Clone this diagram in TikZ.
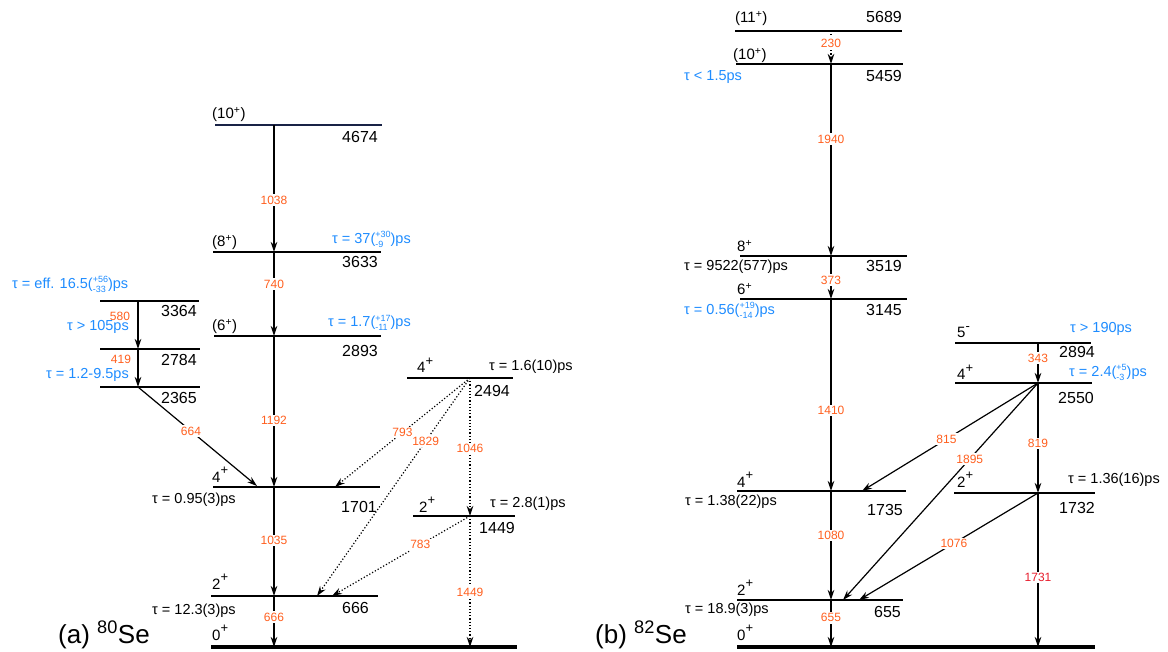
\documentclass[tikz,border=0pt]{standalone}
\usepackage{fontspec}
\setmainfont{Liberation Sans}
\usetikzlibrary{arrows.meta}
\definecolor{gam}{RGB}{255,95,30}
\definecolor{taublue}{RGB}{30,140,255}
\definecolor{gred}{RGB}{232,30,45}
\definecolor{navyline}{RGB}{25,35,70}
\newcommand{\ud}[2]{\raisebox{-3.2pt}{\fontsize{9}{9}\selectfont\shortstack[l]{#1\\#2}}}
\newcommand{\spn}[2]{#1\raisebox{0.5em}{\fontsize{13}{13}\selectfont #2}}
\newcommand{\psp}[2]{(#1\raisebox{0.55em}{\fontsize{9}{9}\selectfont #2})}
\tikzset{
  lev/.style={line width=2pt},
  gnd/.style={line width=3.3pt},
  tr/.style={line width=1.2pt, -{Stealth[length=10pt,width=6.5pt]}},
  dtr/.style={tr, dotted},
  gl/.style={text=gam, fill=white, inner sep=1.5pt, font=\fontsize{12}{12}\selectfont},
  gls/.style={text=gam, inner sep=0pt, font=\fontsize{12}{12}\selectfont},
  en/.style={font=\fontsize{16}{16}\selectfont, inner sep=0pt},
  sp/.style={font=\fontsize{15}{15}\selectfont, inner sep=0pt},
  tb/.style={text=taublue, font=\fontsize{14.5}{15}\selectfont, inner sep=0pt},
  tk/.style={font=\fontsize{14.5}{15}\selectfont, inner sep=0pt},
  ttl/.style={font=\fontsize{26}{26}\selectfont, inner sep=0pt, anchor=base west},
}
\begin{document}
\begin{tikzpicture}[x=1pt,y=-1pt]
\useasboundingbox (0,0) rectangle (1168,652);

% ================= (a) 80Se =================
% levels
\draw[lev,navyline] (215,125) -- (382,125);
\draw[lev] (213,252) -- (381,252);
\draw[lev] (214,336) -- (381,336);
\draw[lev] (100,301) -- (199,301);
\draw[lev] (100,349) -- (200,349);
\draw[lev] (100,387) -- (200,387);
\draw[lev] (213,487) -- (380,487);
\draw[lev] (211,596) -- (378,596);
\draw[gnd] (211,647) -- (517,647);
\draw[lev] (407,378) -- (513,378);
\draw[lev] (413,516) -- (515,516);

% transition points
\coordinate (a10) at (274,125);
\coordinate (a8) at (274,252);
\coordinate (a6) at (274,336);
\coordinate (a4) at (274,487);
\coordinate (a4e) at (257,486);
\coordinate (a4r) at (335,487);
\coordinate (a2) at (274,596);
\coordinate (a2a) at (317,596);
\coordinate (a2b) at (332,596);
\coordinate (a0) at (274,647);
\coordinate (s3364) at (138,301);
\coordinate (s2784) at (138,349);
\coordinate (s2365) at (138,387);
\coordinate (b2494) at (470,378);
\coordinate (b1449) at (470,516);
\coordinate (b0) at (470,647);

% transitions
\draw[tr] (a10) -- node[gl,pos=0.59] (g1038) {1038} (a8);
\draw[tr] (a8) -- node[gl,pos=0.38] (g740) {740} (a6);
\draw[tr] (a6) -- node[gl,pos=0.56] (g1192) {1192} (a4);
\draw[tr] (a4) -- node[gl,pos=0.49] (g1035) {1035} (a2);
\draw[tr] (a2) -- node[gl,pos=0.41] (g666) {666} (a0);
\draw[tr] (s3364) -- (s2784);
\draw[tr] (s2784) -- (s2365);
\node[gls] (g580) at (120,316) {580};
\node[gls] (g419) at (121,359) {419};
\draw[tr] (s2365) -- node[gl,pos=0.445] (g664) {664} (a4e);
\draw[dtr] (b2494) -- node[gl,pos=0.5] (g793) {793} (a4r);
\draw[dtr] (b2494) -- node[gl,pos=0.29] (g1829) {1829} (a2a);
\draw[dtr] (b2494) -- node[gl,pos=0.51] (g1046) {1046} (b1449);
\draw[dtr] (b1449) -- node[gl,pos=0.36] (g783) {783} (a2b);
\draw[dtr] (b1449) -- node[gl,pos=0.58] (g1449) {1449} (b0);

% labels
\node[sp,anchor=base west] (j10a) at (212,119) {(10\textsuperscript{+})};
\node[en,anchor=base east] (e4674) at (378,143) {4674};
\node[sp,anchor=base west] (j8a) at (212,247) {(8\textsuperscript{+})};
\node[en,anchor=base east] (e3633) at (378,268) {3633};
\node[tb,anchor=base east] (t3633) at (411,244) {τ = 37(\ud{+30}{-9})ps};
\node[sp,anchor=base west] (j6a) at (212,331) {(6\textsuperscript{+})};
\node[en,anchor=base east] (e2893) at (378,357) {2893};
\node[tb,anchor=base east] (t2893) at (411,327) {τ = 1.7(\ud{+17}{-11})ps};
\node[en,anchor=base east] (e3364) at (197,317) {3364};
\node[tb,anchor=base west] (t3364) at (12,289) {τ = eff. 16.5(\ud{+56}{-33})ps};
\node[tb,anchor=base east] (t2784) at (129,331) {τ > 105ps};
\node[en,anchor=base east] (e2784) at (197,366) {2784};
\node[tb,anchor=base east] (t2365) at (129,379) {τ = 1.2-9.5ps};
\node[en,anchor=base east] (e2365) at (197,403) {2365};
\node[sp,anchor=base west] (j4a) at (212,482) {\spn{4}{+}};
\node[tk,anchor=base west] (t1701) at (152,503) {τ = 0.95(3)ps};
\node[en,anchor=base east] (e1701) at (377,512) {1701};
\node[sp,anchor=base west] (j2a) at (212,589) {\spn{2}{+}};
\node[tk,anchor=base west] (t666) at (152,614) {τ = 12.3(3)ps};
\node[en,anchor=base east] (e666) at (369,613) {666};
\node[sp,anchor=base west] (j0a) at (212,640) {\spn{0}{+}};
\node[ttl] (ta) at (58,643) {(a) \textsuperscript{80}Se};
\node[sp,anchor=base west] (j4b) at (417,373) {\spn{4}{+}};
\node[en,anchor=base east] (e2494) at (510,396) {2494};
\node[tk,anchor=base west] (t2494) at (489,371) {τ = 1.6(10)ps};
\node[sp,anchor=base west] (j2b) at (419,512) {\spn{2}{+}};
\node[en,anchor=base east] (e1449) at (515,533) {1449};
\node[tk,anchor=base west] (t1449) at (490,507) {τ = 2.8(1)ps};

% ================= (b) 82Se =================
\draw[lev] (735,31) -- (902,31);
\draw[lev] (736,64) -- (903,64);
\draw[lev] (740,256) -- (907,256);
\draw[lev] (740,299) -- (907,299);
\draw[lev] (737,491) -- (906,491);
\draw[lev] (737,600) -- (903,600);
\draw[gnd] (737,647) -- (1095,647);
\draw[lev] (955,343) -- (1091,343);
\draw[lev] (955,383) -- (1092,383);
\draw[lev] (954,493) -- (1095,493);

\coordinate (c11) at (831,31);
\coordinate (c10) at (831,64);
\coordinate (c8) at (831,256);
\coordinate (c6) at (831,299);
\coordinate (c4) at (831,491);
\coordinate (c4r) at (862,491);
\coordinate (c2) at (831,600);
\coordinate (c2a) at (843,600);
\coordinate (c2b) at (859,600);
\coordinate (c0) at (831,647);
\coordinate (d5) at (1038,343);
\coordinate (d4) at (1038,383);
\coordinate (d2) at (1038,493);
\coordinate (d0) at (1038,647);

\draw[dtr] (c11) -- node[gl,pos=0.36] (g230) {230} (c10);
\draw[tr] (c10) -- node[gl,pos=0.39] (g1940) {1940} (c8);
\draw[tr] (c8) -- node[gl,pos=0.56] (g373) {373} (c6);
\draw[tr] (c6) -- node[gl,pos=0.58] (g1410) {1410} (c4);
\draw[tr] (c4) -- node[gl,pos=0.41] (g1080) {1080} (c2);
\draw[tr] (c2) -- node[gl,pos=0.38] (g655) {655} (c0);
\draw[tr] (d5) -- node[gl,pos=0.38] (g343) {343} (d4);
\draw[tr] (d4) -- node[gl,pos=0.52] (g815) {815} (c4r);
\draw[tr] (d4) -- node[gl,pos=0.35] (g1895) {1895} (c2a);
\draw[tr] (d4) -- node[gl,pos=0.55] (g819) {819} (d2);
\draw[tr] (d2) -- node[gl,pos=0.47] (g1076) {1076} (c2b);
\draw[tr] (d2) -- node[gl,text=gred,pos=0.55] (g1731) {1731} (d0);

\node[sp,anchor=base west] (j11) at (735,23) {(11\textsuperscript{+})};
\node[en,anchor=base east] (e5689) at (902,23) {5689};
\node[sp,anchor=base west] (j10b) at (733,60) {(10\textsuperscript{+})};
\node[en,anchor=base east] (e5459) at (902,82) {5459};
\node[tb,anchor=base west] (t5459) at (684,81) {τ < 1.5ps};
\node[sp,anchor=base west] (j8b) at (737,252) {8\textsuperscript{+}};
\node[tk,anchor=base west] (t3519) at (684,271) {τ = 9522(577)ps};
\node[en,anchor=base east] (e3519) at (902,272) {3519};
\node[sp,anchor=base west] (j6b) at (737,295) {6\textsuperscript{+}};
\node[tb,anchor=base west] (t3145) at (684,315) {τ = 0.56(\ud{+19}{-14})ps};
\node[en,anchor=base east] (e3145) at (902,316) {3145};
\node[sp,anchor=base west] (j5) at (957,338) {\spn{5}{-}};
\node[tb,anchor=base west] (t2894) at (1070,333) {τ > 190ps};
\node[en,anchor=base east] (e2894) at (1095,358) {2894};
\node[sp,anchor=base west] (j4c) at (957,380) {\spn{4}{+}};
\node[tb,anchor=base west] (t2550) at (1069,377) {τ = 2.4(\ud{+5}{-3})ps};
\node[en,anchor=base east] (e2550) at (1094,403) {2550};
\node[sp,anchor=base west] (j2c) at (957,487) {\spn{2}{+}};
\node[tk,anchor=base west] (t1732) at (1068,483) {τ = 1.36(16)ps};
\node[en,anchor=base east] (e1732) at (1095,513) {1732};
\node[sp,anchor=base west] (j4d) at (737,487) {\spn{4}{+}};
\node[tk,anchor=base west] (t1735) at (685,505) {τ = 1.38(22)ps};
\node[en,anchor=base east] (e1735) at (903,515) {1735};
\node[sp,anchor=base west] (j2d) at (737,595) {\spn{2}{+}};
\node[tk,anchor=base west] (t655) at (685,613) {τ = 18.9(3)ps};
\node[en,anchor=base east] (e655) at (901,617) {655};
\node[sp,anchor=base west] (j0b) at (737,640) {\spn{0}{+}};
\node[ttl] (tb) at (595,643) {(b) \textsuperscript{82}Se};
\end{tikzpicture}
\end{document}
